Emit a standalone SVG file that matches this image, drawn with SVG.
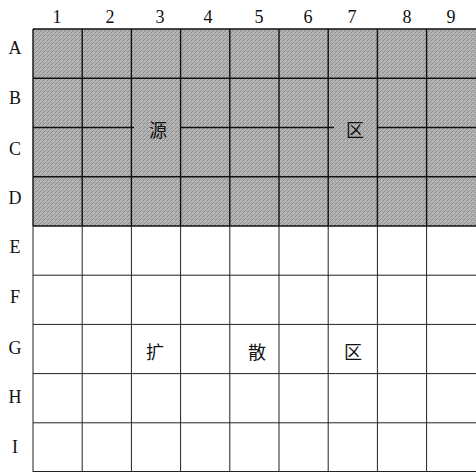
<svg xmlns="http://www.w3.org/2000/svg" width="476" height="472" viewBox="0 0 476 472">
<style>
.lbl{font-family:"Liberation Serif","Noto Sans CJK SC",serif;font-size:18px;fill:#111;text-anchor:middle}
.cjk{font-family:"Noto Sans CJK SC",sans-serif;font-size:18px;fill:#111;text-anchor:middle}
.gt{stroke:#111;stroke-width:1.4;fill:none}
.gb{stroke:#222;stroke-width:1;fill:none}
</style>
<defs>
<pattern id="tex" width="4" height="4" patternUnits="userSpaceOnUse">
<rect width="4" height="4" fill="#b0b0b0"/>
<path d="M0 4L4 0" stroke="#888" stroke-width="0.8"/>
<rect x="1" y="1" width="1" height="1" fill="#d6d6d6"/>
</pattern>
</defs>
<rect id="source-zone" x="33" y="29" width="443" height="197" fill="url(#tex)"/>
<g id="grid-top" class="gt">
<path d="M33 29H476M33 78.3H476M33 176.8H476M33 226H476"/>
<path d="M33 127.5H134M180 127.5H334M378 127.5H476"/>
<path d="M33 29V226M82.2 29V226M131.4 29V226M180.6 29V226M229.8 29V226M279 29V226M328.2 29V226M377.4 29V226M426.6 29V226"/>
</g>
<g id="grid-bottom" class="gb">
<path d="M33 275.2H476M33 324.4H476M33 373.6H476M33 422.8H476M33 471.5H476"/>
<path d="M33 226V472M82.2 226V472M131.4 226V472M180.6 226V472M229.8 226V472M279 226V472M328.2 226V472M377.4 226V472M426.6 226V472"/>
</g>
<g id="col-labels" class="lbl">
<text x="57" y="23">1</text><text x="110" y="23">2</text><text x="160" y="23">3</text>
<text x="208" y="23">4</text><text x="259" y="23">5</text><text x="308" y="23">6</text>
<text x="352" y="23">7</text><text x="407" y="23">8</text><text x="451" y="23">9</text>
</g>
<g id="row-labels" class="lbl">
<text x="15" y="54">A</text><text x="15" y="104">B</text><text x="15" y="155">C</text>
<text x="15" y="204">D</text><text x="15" y="253">E</text><text x="15" y="303">F</text>
<text x="15" y="354">G</text><text x="15" y="403">H</text><text x="15" y="453">I</text>
</g>
<g id="source-label" class="cjk">
<text x="158" y="137">源</text>
<text x="355" y="137">区</text>
</g>
<g id="diffusion-label" class="cjk">
<text x="155" y="359">扩</text>
<text x="257" y="359">散</text>
<text x="353" y="359">区</text>
</g>
</svg>
